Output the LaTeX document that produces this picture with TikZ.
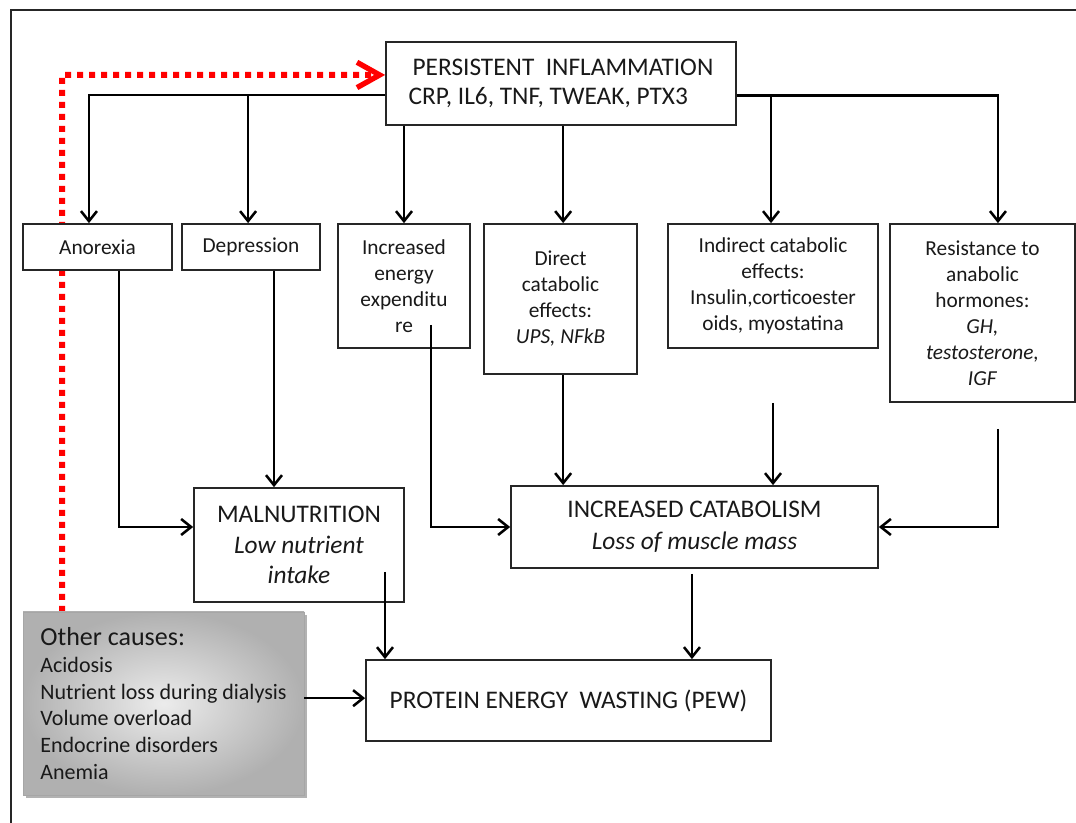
\documentclass[tikz,border=0pt]{standalone}
\usepackage{fontspec}
\setmainfont{Carlito}
\usetikzlibrary{arrows.meta,shadows,calc,backgrounds}
\newcommand\smallf{\fontsize{16pt}{19.5pt}\selectfont}
\newcommand\bigf{\fontsize{19pt}{21pt}\selectfont}
\begin{document}
\begin{tikzpicture}[x=0.75pt,y=-0.75pt,
  box/.style={draw=black!85, line width=1.3pt, align=center, inner sep=0pt, fill=white, text=black!90},
  arr/.style={line width=1.9pt, black, -{Straight Barb[length=7.5pt,width=12pt]}},
  reddot/.style={red, line width=4.5pt, dash pattern=on 4.5pt off 4.5pt, -{Straight Barb[length=17pt,width=19pt,line width=4pt]}},
  frame/.style={line width=1.6pt, black!85}]
\useasboundingbox (0,0) rectangle (1076,823);
% frame
\coordinate (f1) at (11,823);
\coordinate (f2) at (11,10);
\coordinate (f3) at (1076,10);
\draw[frame] (f1) -- (f2) -- (f3);
% nodes
\node[box, minimum width=262.5pt, minimum height=62.25pt, font=\bigf, align=left] (infl) at (561,83.5)
  {\hspace*{3pt}PERSISTENT~ INFLAMMATION\\[1pt] CRP, IL6, TNF, TWEAK, PTX3};
\node[box, minimum width=111.75pt, minimum height=34.5pt, font=\smallf] (anor) at (97.5,247) {Anorexia};
\node[box, minimum width=103.5pt, minimum height=34.5pt, font=\smallf] (depr) at (251,247) {Depression};
\node[box, minimum width=99pt, minimum height=93pt, font=\smallf] (energy) at (404,286)
  {Increased\\ energy\\ expenditu\\ re};
\node[box, minimum width=114.75pt, minimum height=112.5pt, font=\smallf] (direct) at (560.5,299)
  {Direct\\ catabolic\\ effects:\\ \textit{UPS, NFkB}};
\node[box, minimum width=157.5pt, minimum height=93pt, font=\smallf] (indirect) at (773,286)
  {Indirect catabolic\\ effects:\\ Insulin,corticoester\\ oids, myostatina};
\node[box, minimum width=138.75pt, minimum height=133.5pt, font=\smallf] (resist) at (982.5,313)
  {Resistance to\\ anabolic\\ hormones:\\ \textit{GH,}\\ \textit{testosterone,}\\ \textit{IGF}};
\node[box, minimum width=157.5pt, minimum height=85.5pt, font={\fontsize{19pt}{23pt}\selectfont}] (maln) at (299,545)
  {MALNUTRITION\\ \textit{Low nutrient}\\ \textit{intake}};
\node[box, minimum width=275.25pt, minimum height=61.5pt, font={\fontsize{19pt}{24pt}\selectfont}] (catab) at (694.5,527)
  {INCREASED CATABOLISM\\ \textit{Loss of muscle mass}};
\node[box, minimum width=303.75pt, minimum height=60.75pt, font=\bigf] (pew) at (568.5,700.5)
  {PROTEIN ENERGY~ WASTING (PEW)};
\node[draw=gray!70, line width=0.6pt, inner color=gray!15, outer color=gray!62, text=black!90,
  drop shadow={shadow xshift=2.5pt, shadow yshift=-2.5pt, fill=gray!75, opacity=0.8},
  minimum width=210.75pt, minimum height=137.25pt, align=left, inner sep=0pt,
  font={\fontsize{16.5pt}{20pt}\selectfont}] (other) at (163.5,703.5)
  {{\fontsize{19.5pt}{20pt}\selectfont Other causes:}\\ Acidosis\\ Nutrient loss during dialysis\\ Volume overload\\ Endocrine disorders\\ Anemia};
% red dotted feedback (behind boxes)
\begin{scope}[on background layer]
\coordinate (rs) at (62,612);
\coordinate (rc) at (62,75);
\draw[reddot] (rs) -- (rc) -- ([yshift=6.4pt]infl.west);
\end{scope}
% from inflammation
\coordinate (ll) at ([yshift=-8.6pt]infl.west);
\coordinate (rl) at ([yshift=-9pt]infl.east);
\draw[arr] (ll) -| ([xshift=-6.4pt]anor.north);
\draw[arr] ([xshift=-2.2pt]depr.north |- ll) -- ([xshift=-2.2pt]depr.north);
\draw[arr] (energy.north |- infl.south) -- (energy.north);
\draw[arr] ([xshift=2pt]direct.north |- infl.south) -- ([xshift=2pt]direct.north);
\draw[arr] (rl) -| ([xshift=11.6pt]resist.north);
\draw[arr] ([xshift=-1.5pt]indirect.north |- rl) -- ([xshift=-1.5pt]indirect.north);
% to malnutrition
\draw[arr] ([xshift=16.1pt]anor.south) |- ([yshift=13.5pt]maln.west);
\draw[arr] ([xshift=17.25pt]depr.south) -- ([xshift=17.25pt]depr.south |- maln.north);
% to catabolism
\draw[arr] ([xshift=20.25pt,yshift=-29.25pt]energy.center) |- (catab.west);
\draw[arr] ([xshift=2pt]direct.south) -- ([xshift=2pt]direct.south |- catab.north);
\draw[arr] ([yshift=-40.5pt]indirect.south) -- (indirect.south |- catab.north);
\draw[arr] ([xshift=11.6pt,yshift=-19.5pt]resist.south) |- (catab.east);
% to PEW
\draw[arr] ([xshift=64.5pt,yshift=-20.25pt]maln.center) -- ([xshift=64.5pt]maln.center |- pew.north);
\draw[arr] ([xshift=-1.9pt,yshift=-3.75pt]catab.south) -- ([xshift=-1.9pt]catab.south |- pew.north);
\draw[arr] ([yshift=4pt]other.east) -- ([yshift=4pt]other.east -| pew.west);
\end{tikzpicture}
\end{document}
